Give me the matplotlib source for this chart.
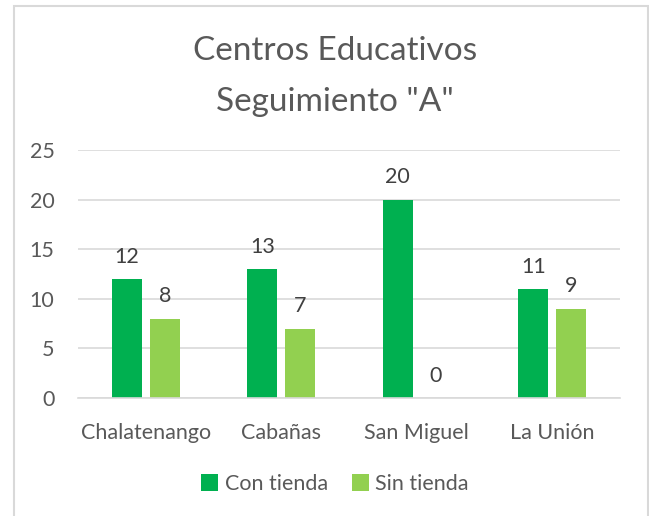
import matplotlib.pyplot as plt
import numpy as np
from matplotlib.patches import Rectangle

plt.rcParams['font.family'] = ['Lato', 'DejaVu Sans']

# Data
categories = ['Chalatenango', 'Cabañas', 'San Miguel', 'La Unión']
con_tienda = [12, 13, 20, 11]
sin_tienda = [8, 7, 0, 9]
series_names = ['Con tienda', 'Sin tienda']

dark_green = '#00B050'
light_green = '#92D050'
text_color = '#595959'
grid_color = '#D9D9D9'
fs = 15.5

fig = plt.figure(figsize=(6.49, 5.16), dpi=100)
ax = fig.add_axes([0.1202, 0.2287, 0.8351, 0.4806])

x = np.arange(len(categories))
w = 0.221
off = 0.14

b1 = ax.bar(x - off, con_tienda, w, color=dark_green, label=series_names[0])
b2 = ax.bar(x + off, sin_tienda, w, color=light_green, label=series_names[1])

# value labels above the bars
for bars in (b1, b2):
    for rect in bars:
        h = rect.get_height()
        ax.annotate(str(int(h)), (rect.get_x() + rect.get_width() / 2, h),
                    xytext=(0, 16), textcoords='offset points',
                    ha='center', va='center', fontsize=fs, color='#404040')

ax.set_xlim(-0.5, len(categories) - 0.5)
ax.set_ylim(0, 25)
ax.set_yticks([0, 5, 10, 15, 20, 25])
ax.set_xticks(x)
ax.set_xticklabels(categories)
ax.yaxis.grid(True, color=grid_color, lw=1.2)
ax.set_axisbelow(True)
for s in ['top', 'right', 'left']:
    ax.spines[s].set_visible(False)
ax.spines['bottom'].set_color(grid_color)
ax.spines['bottom'].set_linewidth(1.2)
ax.tick_params(axis='both', length=0, labelsize=fs, colors=text_color)
ax.tick_params(axis='y', pad=17)
ax.tick_params(axis='x', pad=18)

fig.text(0.516, 0.852, 'Centros Educativos\nSeguimiento "A"', ha='center', va='center',
         fontsize=24, color=text_color, linespacing=1.9)

leg = fig.legend(handles=[b1, b2], labels=series_names, loc='center',
                 bbox_to_anchor=(0.516, 0.062), ncol=2, frameon=False,
                 fontsize=fs, handlelength=0.8, handleheight=0.8,
                 handletextpad=0.3, columnspacing=1.1)
for t in leg.get_texts():
    t.set_color(text_color)

# chart area border
fig.patches.append(Rectangle((13.5 / 649, -0.1), (648 - 13.5) / 649, 1.1 - 6 / 516,
                             transform=fig.transFigure, fill=False,
                             edgecolor=grid_color, lw=1.5))

plt.savefig('out.png', dpi=100)
